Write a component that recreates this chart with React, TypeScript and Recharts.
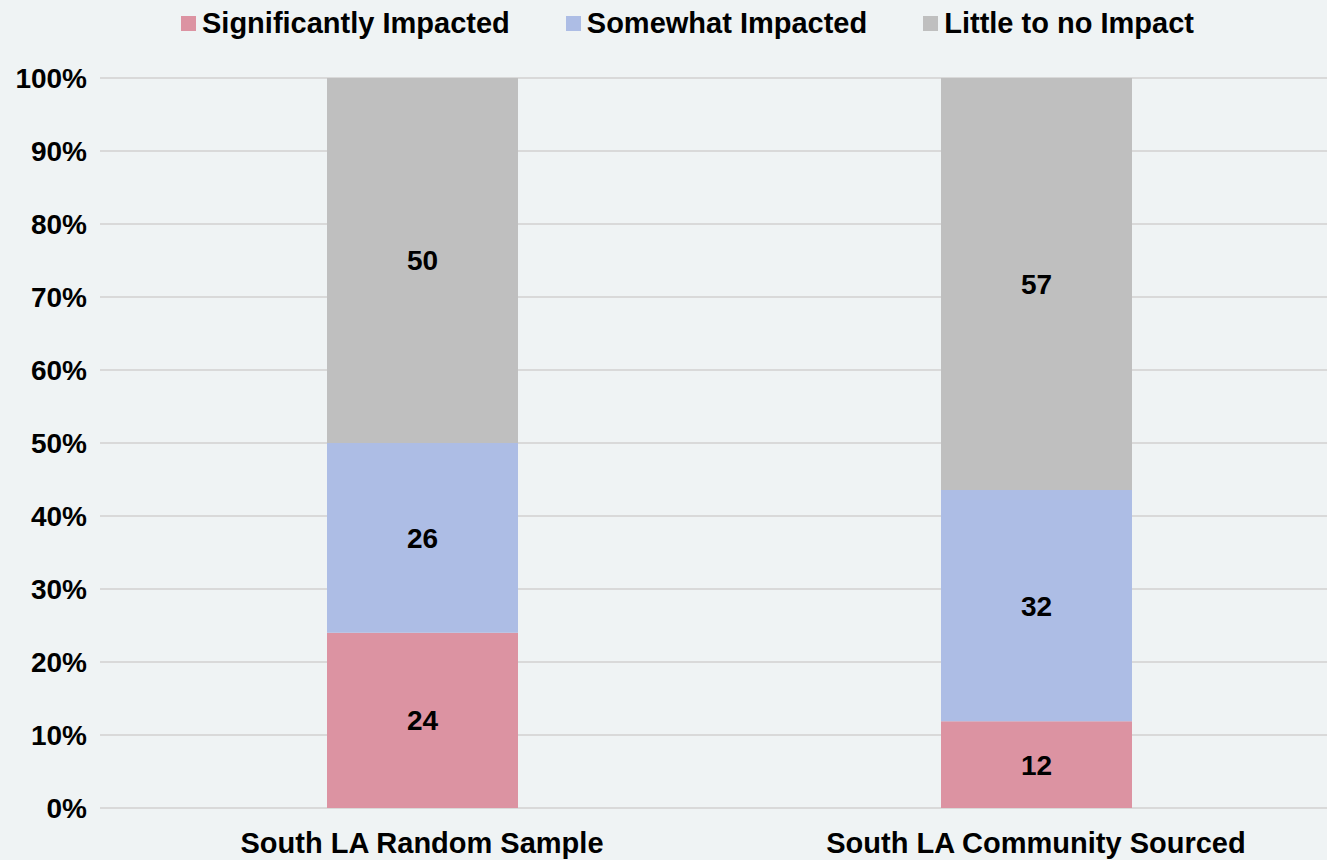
import { BarChart, Bar, XAxis, YAxis, CartesianGrid, LabelList } from "recharts";

const CATEGORIES = ["South LA Random Sample", "South LA Community Sourced"];
const SIGNIFICANT = [24, 12];
const SOMEWHAT = [26, 32];
const LITTLE = [50, 57];
const Y_TICKS = [0, 0.1, 0.2, 0.3, 0.4, 0.5, 0.6, 0.7, 0.8, 0.9, 1];

const SERIES = [
  { key: "significant", name: "Significantly Impacted", color: "#dc93a2" },
  { key: "somewhat", name: "Somewhat Impacted", color: "#adbde5" },
  { key: "little", name: "Little to no Impact", color: "#bfbfbf" },
];

const FONT = '"Liberation Sans", Arial, sans-serif';

const data = CATEGORIES.map((name, i) => ({
  name,
  significant: SIGNIFICANT[i],
  somewhat: SOMEWHAT[i],
  little: LITTLE[i],
}));

export default function App() {
  return (
    <div
      style={{
        position: "absolute",
        top: 0,
        left: 0,
        width: 1327,
        height: 860,
        overflow: "hidden",
        background: "#eff3f4",
        fontFamily: FONT,
      }}
    >
      {/* Legend */}
      <div
        style={{
          position: "absolute",
          top: 6,
          left: 181,
          display: "flex",
          gap: 56,
          fontSize: 29,
          fontWeight: "bold",
          color: "#000",
          whiteSpace: "nowrap",
          lineHeight: "35px",
        }}
      >
        {SERIES.map((s) => (
          <span key={s.key} style={{ display: "inline-flex", alignItems: "center", gap: 6 }}>
            <span style={{ display: "inline-block", width: 15, height: 15, background: s.color }} />
            {s.name}
          </span>
        ))}
      </div>
      <BarChart
        width={1343}
        height={860}
        data={data}
        stackOffset="expand"
        margin={{ top: 78, right: 0, left: 0, bottom: 22 }}
      >
        <CartesianGrid vertical={false} stroke="#d9d9d9" strokeWidth={2} />
        <XAxis
          dataKey="name"
          axisLine={false}
          tickLine={false}
          tickSize={0}
          tickMargin={24}
          padding={{ left: 15, right: 0 }}
          tick={{ fontSize: 29, fontWeight: "bold", fill: "#000", fontFamily: FONT }}
        />
        <YAxis
          width={100}
          domain={[0, 1]}
          ticks={Y_TICKS}
          axisLine={false}
          tickLine={false}
          tickSize={0}
          tickMargin={13}
          tickFormatter={(v: number) => `${Math.round(v * 100)}%`}
          tick={{ fontSize: 28, fontWeight: "bold", fill: "#000", fontFamily: FONT }}
        />
        {SERIES.map((s) => (
          <Bar
            key={s.key}
            dataKey={s.key}
            name={s.name}
            stackId="a"
            fill={s.color}
            barSize={191}
            isAnimationActive={false}
          >
            <LabelList
              dataKey={s.key}
              position="center"
              style={{ fontSize: 28, fontWeight: "bold", fill: "#000", fontFamily: FONT }}
            />
          </Bar>
        ))}
      </BarChart>
    </div>
  );
}
